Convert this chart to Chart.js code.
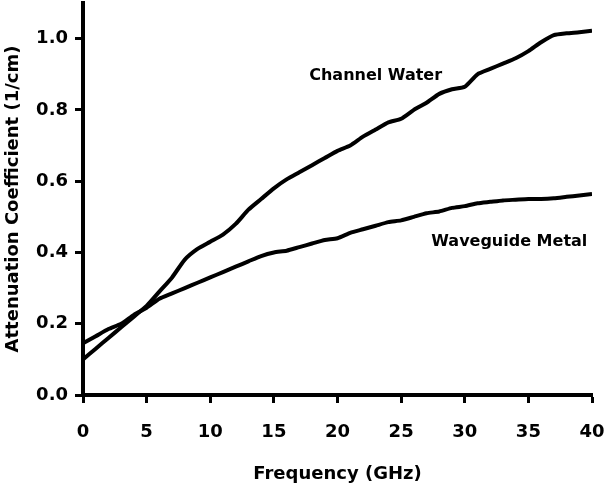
<!DOCTYPE html>
<html>
<head>
<meta charset="utf-8">
<script src="https://cdn.jsdelivr.net/npm/chart.js@4/dist/chart.umd.min.js"></script>
<style>
  html, body { margin: 0; padding: 0; background: #fff; }
  #wrap { width: 604px; height: 485px; }
</style>
</head>
<body>
<div id="wrap"><canvas id="grafico"></canvas></div>
<script>
// dados
const frequencias = [0,1,2,3,4,5,6,7,8,9,10,11,12,13,14,15,16,17,18,19,20,
                     21,22,23,24,25,26,27,28,29,30,31,32,33,34,35,36,37,38,39,40];
const aguaCanal = [0.10,0.13,0.16,0.19,0.22,0.25,0.29,0.33,0.38,0.41,0.43,
                   0.45,0.48,0.52,0.55,0.58,0.605,0.625,0.645,0.665,0.685,
                   0.70,0.725,0.745,0.765,0.775,0.80,0.82,0.845,0.858,0.865,
                   0.90,0.915,0.93,0.945,0.965,0.99,1.01,1.015,1.018,1.022];
const metalGuia = [0.145,0.165,0.185,0.20,0.225,0.245,0.27,0.285,0.30,0.315,0.33,
                   0.345,0.36,0.375,0.39,0.40,0.405,0.415,0.425,0.435,0.44,
                   0.455,0.465,0.475,0.485,0.49,0.50,0.51,0.515,0.525,0.53,
                   0.538,0.542,0.546,0.548,0.55,0.55,0.552,0.556,0.56,0.564];
const ticksY = [0, 0.2, 0.4, 0.6, 0.8, 1.0];
const rotulos = [
    { texto: 'Channel Water', x: 23, y: 0.895 },
    { texto: 'Waveguide Metal', x: 33.5, y: 0.43 }
];

const fonte = '"DejaVu Sans", sans-serif';

const pontos = (ys) => frequencias.map((f, i) => ({ x: f, y: ys[i] }));

const pluginRotulos = {
    id: 'rotulos',
    afterDatasetsDraw(chart) {
        const ctx = chart.ctx;
        const sx = chart.scales.x, sy = chart.scales.y;
        ctx.save();
        ctx.fillStyle = '#000';
        ctx.font = 'bold 16px ' + fonte;
        ctx.textAlign = 'center';
        ctx.textBaseline = 'middle';
        rotulos.forEach(r => {
            ctx.fillText(r.texto, sx.getPixelForValue(r.x), sy.getPixelForValue(r.y));
        });
        ctx.restore();
    }
};

const eixo = {
    border: { display: true, color: '#000', width: 4 },
    grid: { display: true, drawOnChartArea: false, drawTicks: true, tickLength: 8, tickWidth: 3, tickColor: '#000' },
    ticks: { color: '#000', font: { family: fonte, size: 18, weight: 'bold' } },
    title: { display: true, color: '#000', font: { family: fonte, size: 18, weight: 'bold' } }
};

new Chart(document.getElementById('grafico'), {
    type: 'line',
    data: {
        datasets: [
            { label: 'Channel Water', data: pontos(aguaCanal), borderColor: '#000', borderWidth: 4, pointRadius: 0, tension: 0.2 },
            { label: 'Waveguide Metal', data: pontos(metalGuia), borderColor: '#000', borderWidth: 4, pointRadius: 0, tension: 0.2 }
        ]
    },
    options: {
        responsive: true,
        maintainAspectRatio: false,
        animation: false,
        layout: { padding: { top: 3, right: 12, left: 3, bottom: 0 } },
        plugins: { legend: { display: false }, tooltip: { enabled: false } },
        scales: {
            x: {
                ...eixo,
                type: 'linear', min: 0, max: 40,
                afterFit: (s) => { s.height = 90; s.paddingRight = 0; s.paddingLeft = 0; },
                ticks: { ...eixo.ticks, stepSize: 5, padding: 19, maxRotation: 0 },
                title: { ...eixo.title, text: 'Frequency (GHz)', padding: { top: 0, bottom: 0 } }
            },
            y: {
                ...eixo,
                min: 0, max: 1.1,
                afterBuildTicks: (s) => { s.ticks = ticksY.map(v => ({ value: v })); },
                afterFit: (s) => { s.width = 80; s.paddingTop = 0; s.paddingBottom = 0; },
                ticks: { ...eixo.ticks, padding: 7, callback: (v) => v.toFixed(1) },
                title: { ...eixo.title, text: 'Attenuation Coefficient (1/cm)', padding: { top: 0, bottom: 0 } }
            }
        }
    },
    plugins: [pluginRotulos]
});
</script>
</body>
</html>
